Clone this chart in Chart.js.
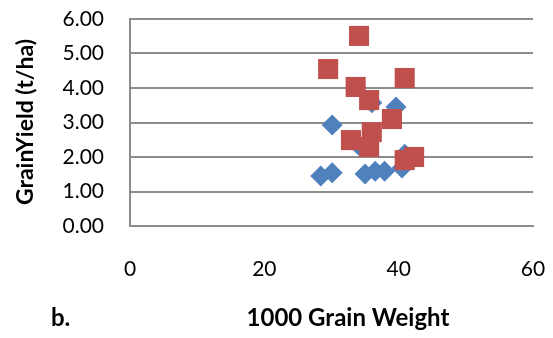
<!DOCTYPE html>
<html>
<head>
<meta charset="utf-8">
<script src="https://cdn.jsdelivr.net/npm/chart.js@4/dist/chart.umd.min.js"></script>
<style>
  html, body { margin: 0; padding: 0; background: #fff; }
  #wrap { width: 553px; height: 338px; position: relative; }
</style>
</head>
<body>
<div id="wrap"><canvas id="scatter"></canvas></div>
<script>
// 1000 grain weight (g) vs grain yield (t/ha), two groups
const blueWeight = [28.4, 30.1, 30.1, 35.0, 36.5, 37.9, 40.5, 40.9, 39.6, 36.0, 34.0];
const blueYield  = [1.45, 1.54, 2.93, 1.51, 1.59, 1.59, 1.68, 2.08, 3.45, 3.57, 2.35];

const redWeight = [29.5, 34.1, 33.6, 35.6, 40.9, 39.0, 36.0, 32.9, 35.6, 40.9, 42.3];
const redYield  = [4.55, 5.51, 4.03, 3.65, 4.29, 3.10, 2.72, 2.49, 2.29, 1.91, 2.00];

const xTicks = [0, 20, 40, 60];
const yTicks = [0, 1, 2, 3, 4, 5, 6];

const FONT = 'Lato, "Open Sans", sans-serif';
const GRID = '#8c8c8c';

function toPoints(xs, ys) {
  return xs.map((x, i) => ({ x: x, y: ys[i] }));
}

// tick padding would otherwise also be added to the label overhang
function noOverhang(scale) {
  scale.paddingTop = 0;
  scale.paddingBottom = 0;
  scale.paddingLeft = 0;
  scale.paddingRight = 0;
}

// axis titles and panel letter, placed from the chart area
const titlesPlugin = {
  id: 'titles',
  afterDraw(chart) {
    const ctx = chart.ctx;
    const a = chart.chartArea;
    ctx.save();
    ctx.fillStyle = '#000';
    ctx.font = 'bold 24px ' + FONT;
    ctx.textBaseline = 'middle';
    ctx.textAlign = 'center';
    ctx.fillText('1000 Grain Weight', a.left + 218, a.bottom + 92);
    ctx.textAlign = 'left';
    ctx.fillText('b.', a.left - 79, a.bottom + 92);
    ctx.font = 'bold 23px ' + FONT;
    ctx.translate(a.left - 104, a.top + 103);
    ctx.rotate(-Math.PI / 2);
    ctx.textAlign = 'center';
    ctx.fillText('GrainYield (t/ha)', 0, 0);
    ctx.restore();
  }
};

new Chart(document.getElementById('scatter'), {
  type: 'scatter',
  data: {
    datasets: [
      {
        label: 'Red',
        data: toPoints(redWeight, redYield),
        pointStyle: 'rect',
        pointRadius: 14.2,
        backgroundColor: '#C0504D',
        borderColor: '#C0504D',
        borderWidth: 0,
      },
      {
        label: 'Blue',
        data: toPoints(blueWeight, blueYield),
        pointStyle: 'rectRot',
        pointRadius: 10.5,
        backgroundColor: '#4F81BD',
        borderColor: '#4F81BD',
        borderWidth: 0,
      },
    ],
  },
  options: {
    responsive: true,
    maintainAspectRatio: false,
    animation: false,
    events: [],
    layout: { padding: { top: 19, right: 20, left: 0, bottom: 0 } },
    plugins: {
      legend: { display: false },
      tooltip: { enabled: false },
    },
    scales: {
      x: {
        type: 'linear',
        min: 0,
        max: 60,
        afterBuildTicks(scale) { scale.ticks = xTicks.map((v) => ({ value: v })); },
        afterFit(scale) { scale.height = 112; noOverhang(scale); },
        grid: { display: false, drawTicks: false },
        border: { display: true, color: GRID, width: 2 },
        ticks: {
          color: '#000',
          padding: 31,
          maxRotation: 0,
          font: { family: FONT, size: 21 },
        },
      },
      y: {
        type: 'linear',
        min: 0,
        max: 6,
        afterBuildTicks(scale) { scale.ticks = yTicks.map((v) => ({ value: v })); },
        afterFit(scale) { scale.width = 130; noOverhang(scale); },
        grid: { color: GRID, lineWidth: 2, drawTicks: false },
        border: { display: true, color: GRID, width: 2 },
        ticks: {
          color: '#000',
          padding: 26,
          font: { family: FONT, size: 21 },
          callback: (v) => Number(v).toFixed(2),
        },
      },
    },
  },
  plugins: [titlesPlugin],
});
</script>
</body>
</html>
